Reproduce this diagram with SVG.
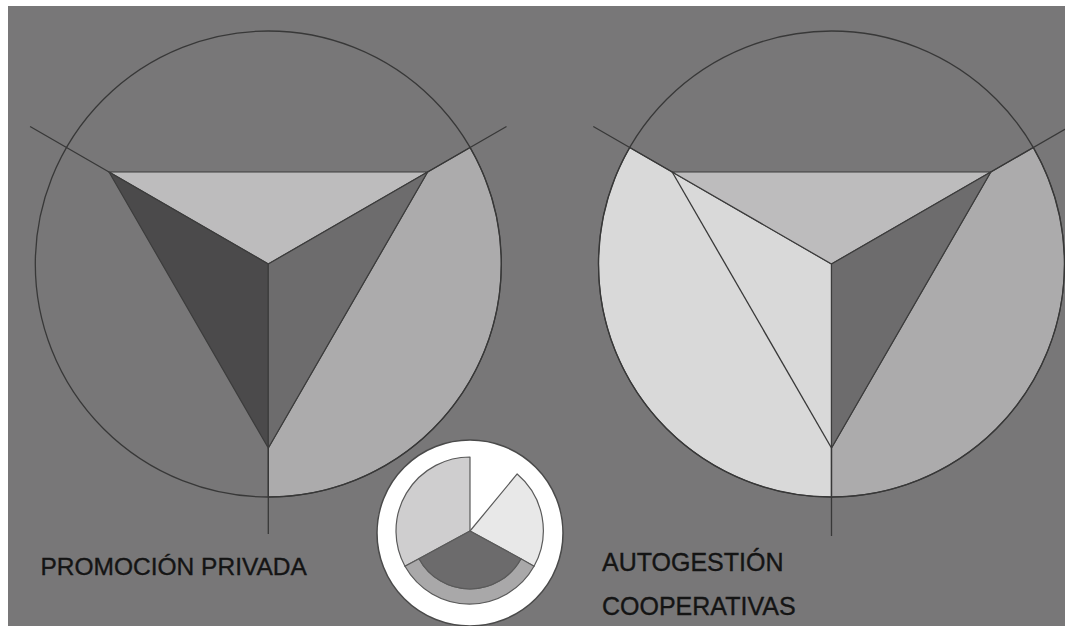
<svg xmlns="http://www.w3.org/2000/svg" width="1065" height="626" viewBox="0 0 1065 626">
  <style>
    .ln { stroke: #383838; stroke-width: 1.3; fill: none; stroke-linejoin: round; }
    .sh { stroke: #3c3c3c; stroke-width: 1.2; stroke-linejoin: round; }
    .top { fill: #bdbcbd; }
    .dark { fill: #4b4a4b; }
    .mid { fill: #6d6c6d; }
    .seg { fill: #acabac; }
    .pale { fill: #d9d9d9; }
    .lbl { font-family: "Liberation Sans", Arial, sans-serif; fill: #141414; stroke: #141414; stroke-width: 0.35; }
    .pie { stroke: #5a5a5a; stroke-width: 1.2; stroke-linejoin: round; }
  </style>
  <rect x="0" y="0" width="1065" height="626" fill="#ffffff"/>
  <rect x="8" y="6" width="1057" height="620" fill="#787778"/>

  <g id="promocion-privada">
    <path class="seg sh" d="M427.6,172 L470.1,147.5 A233,233 0 0 1 268.3,497 L268.3,448 Z"/>
    <path class="top sh" d="M109,172 L427.6,172 L268.3,264 Z"/>
    <path class="dark sh" d="M109,172 L268.3,264 L268.3,448 Z"/>
    <path class="mid sh" d="M427.6,172 L268.3,264 L268.3,448 Z"/>
    <circle class="ln" cx="268.3" cy="264" r="233"/>
    <path class="ln" d="M30.1,126.5 L109,172 M506.5,126.5 L427.6,172 M268.3,448 L268.3,534"/>
    <text class="lbl" x="40.5" y="575" font-size="24.5">PROMOCIÓN PRIVADA</text>
  </g>

  <g id="autogestion-cooperativas">
    <path class="pale sh" d="M672.2,172 L629.7,147.5 A233,233 0 0 0 831.5,497 L831.5,264 Z"/>
    <path class="seg sh" d="M990.8,172 L1033.3,147.5 A233,233 0 0 1 831.5,497 L831.5,448 Z"/>
    <path class="top sh" d="M672.2,172 L990.8,172 L831.5,264 Z"/>
    <path class="mid sh" d="M990.8,172 L831.5,264 L831.5,448 Z"/>
    <path class="ln" d="M672.2,172 L831.5,448"/>
    <circle class="ln" cx="831.5" cy="264" r="233"/>
    <path class="ln" d="M593.3,126.5 L672.2,172 M1069.7,126.5 L990.8,172 M831.5,448 L831.5,536"/>
    <text class="lbl" x="602" y="571" font-size="25">AUTOGESTIÓN</text>
    <text class="lbl" x="602" y="615" font-size="25">COOPERATIVAS</text>
  </g>

  <g id="legend-pie">
    <circle cx="470" cy="533" r="93" fill="#ffffff" stroke="#4a4a4a" stroke-width="1.5"/>
    <path class="pie" fill="#cfcecf" d="M470,531 L470,457 A74,74 0 0 0 404.97,566.31 Z"/>
    <path class="pie" fill="#e8e8e8" d="M470,531 L517.17,473.98 A74,74 0 0 1 534.03,566.31 Z"/>
    <path class="pie" fill="#a9a8a9" d="M404.97,566.31 A74,74 0 0 0 534.03,566.31 L520.97,558.68 A58,58 0 0 1 419.03,558.68 Z"/>
    <path class="pie" fill="#6c6b6c" d="M470,531 L419.03,558.68 A58,58 0 0 0 520.97,558.68 Z"/>
  </g>
</svg>
